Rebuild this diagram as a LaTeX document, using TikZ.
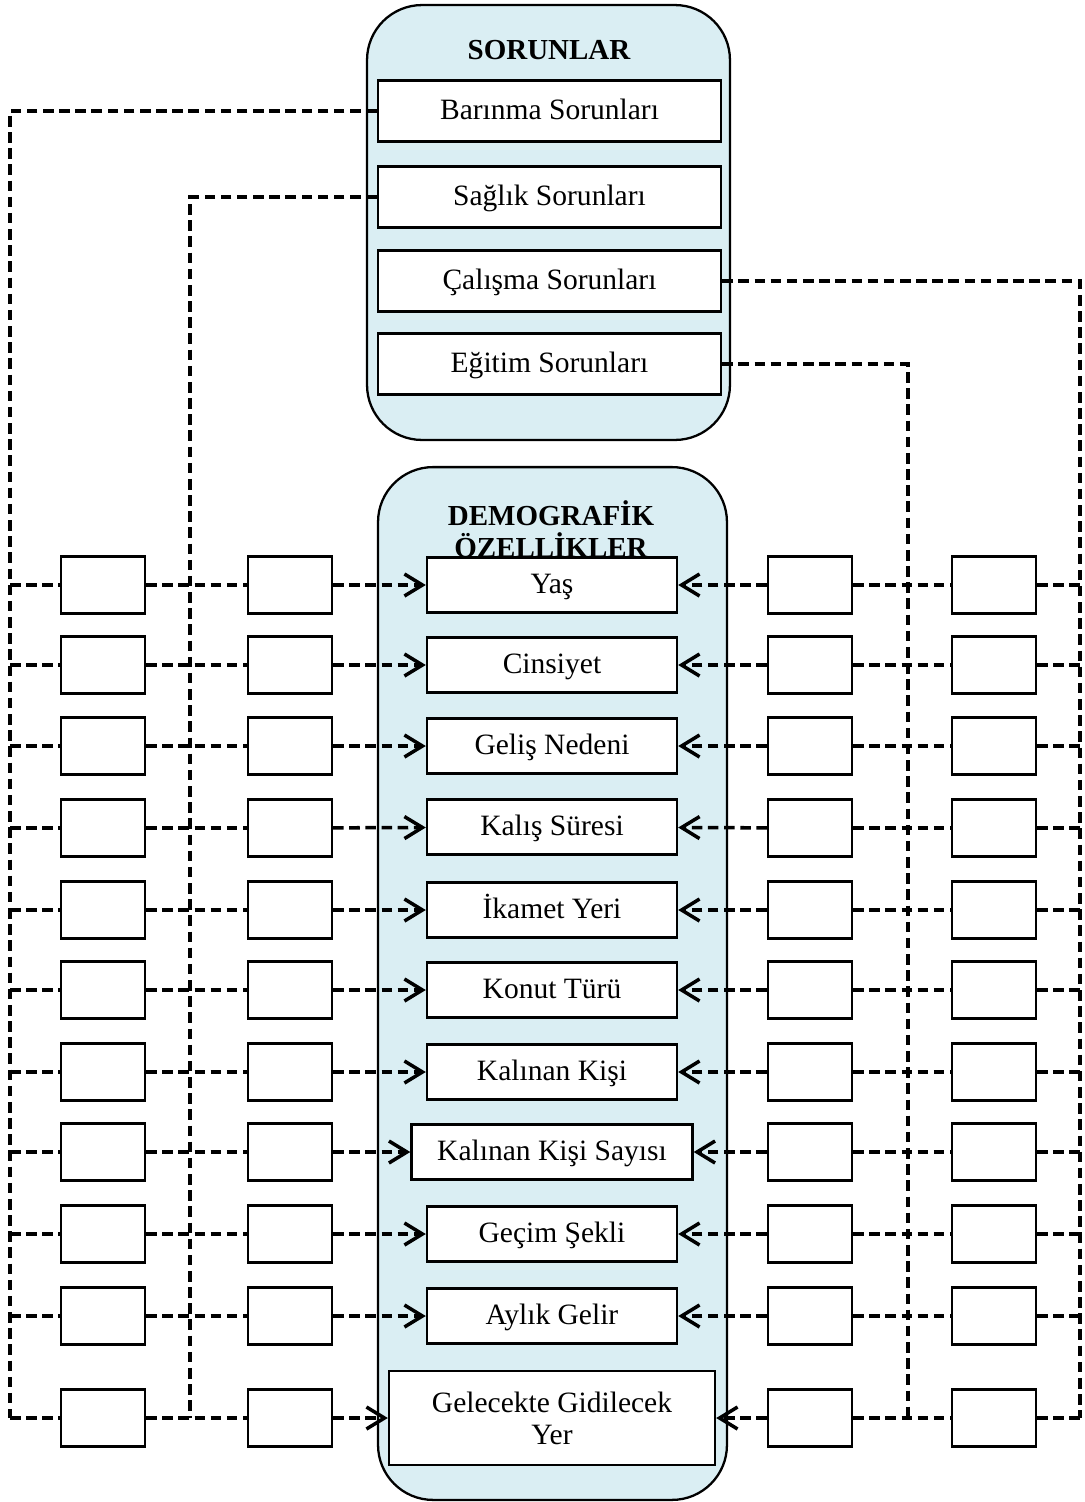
\documentclass[tikz,border=0pt]{standalone}
\usepackage{fontspec}
\setmainfont{Liberation Serif}
\usetikzlibrary{arrows.meta}
\definecolor{panelblue}{RGB}{218,238,243}
\tikzset{
  panel/.style={draw, line width=1.3pt, fill=panelblue, rounded corners=1.1cm, minimum width=7cm, inner sep=0pt},
  title/.style={font=\fontsize{16.5}{18.2}\selectfont\bfseries, align=center},
  item/.style={draw, line width=1.4pt, fill=white, minimum width=5cm, minimum height=1.1cm, inner sep=0pt,
    text height=13pt, text depth=3pt, font=\fontsize{16.8}{18.2}\selectfont},
  sorun/.style={item, minimum width=6.86cm, minimum height=1.22cm},
  cell/.style={draw, line width=1.2pt, fill=white, minimum width=1.68cm, minimum height=1.14cm, inner sep=0pt},
  link/.style={line width=2pt, dash pattern=on 6pt off 3.2pt},
  arrow/.style={link, -{Straight Barb[length=0.36cm, width=0.44cm]}}
}
\begin{document}
\begin{tikzpicture}[x=0.02cm, y=-0.02cm]
  %%%%% START %%%%%
  \useasboundingbox (0,0) rectangle (1085,1502);

  % panels
  \node[panel, minimum width=7.26cm, minimum height=8.7cm] (sorunlar) at (548.5,222.5) {};
  \node[panel, minimum width=6.98cm, minimum height=20.66cm] (demog) at (552.5,983.5) {};
  \node[title] (t1) at (549,50) {SORUNLAR};
  \node[title] (t2) at (551,529) {DEMOGRAFİK\\ÖZELLİKLER};

  % sorunlar
  \node[sorun] (bar) at (549.5,111) {Barınma Sorunları};
  \node[sorun] (sag) at (549.5,197) {Sağlık Sorunları};
  \node[sorun] (cal) at (549.5,281) {Çalışma Sorunları};
  \node[sorun] (egi) at (549.5,364) {Eğitim Sorunları};

  % demografik ozellikler
  \foreach \y/\w/\t [count=\i] in {585/5/Yaş, 665/5/Cinsiyet, 746/5/Geliş Nedeni,
      827/5/Kalış Süresi, 910/5/İkamet Yeri, 990/5/Konut Türü, 1072/5/Kalınan Kişi,
      1152/5.62/Kalınan Kişi Sayısı, 1234/5/Geçim Şekli, 1316/5/Aylık Gelir}
    \node[item, minimum width=\w cm] (d\i) at (552,\y) {\t};
  \node[item, text height=, text depth=, minimum width=6.52cm, minimum height=1.88cm, align=center] (d11) at (552,1418) {Gelecekte Gidilecek\\Yer};

  % empty cells
  \foreach \y [count=\i] in {585,665,746,828,910,990,1072,1152,1234,1316,1418} {
    \node[cell] (a\i) at (103,\y) {};
    \node[cell] (b\i) at (290,\y) {};
    \node[cell] (c\i) at (810,\y) {};
    \node[cell] (e\i) at (994,\y) {};
  }

  % buses
  \coordinate (busA) at (10,1418);
  \coordinate (busB) at (190,1418);
  \coordinate (busC) at (908,1418);
  \coordinate (busD) at (1080,1418);
  \draw[link] (bar.west) -| (busA);
  \draw[link] (sag.west) -| (busB);
  \draw[link] (cal.east) -| (busD);
  \draw[link] (egi.east) -| (busC);

  % rows
  \foreach \i in {1,...,11} {
    \draw[link] (a\i.west -| busA) -- (a\i.west);
    \draw[link] (a\i) -- (b\i);
    \draw[arrow] (b\i) -- (d\i);
    \draw[arrow] (c\i) -- (d\i);
    \draw[link] (c\i) -- (e\i);
    \draw[link] (e\i) -- (e\i.east -| busD);
  }
  %%%%% END %%%%%
\end{tikzpicture}
\end{document}
